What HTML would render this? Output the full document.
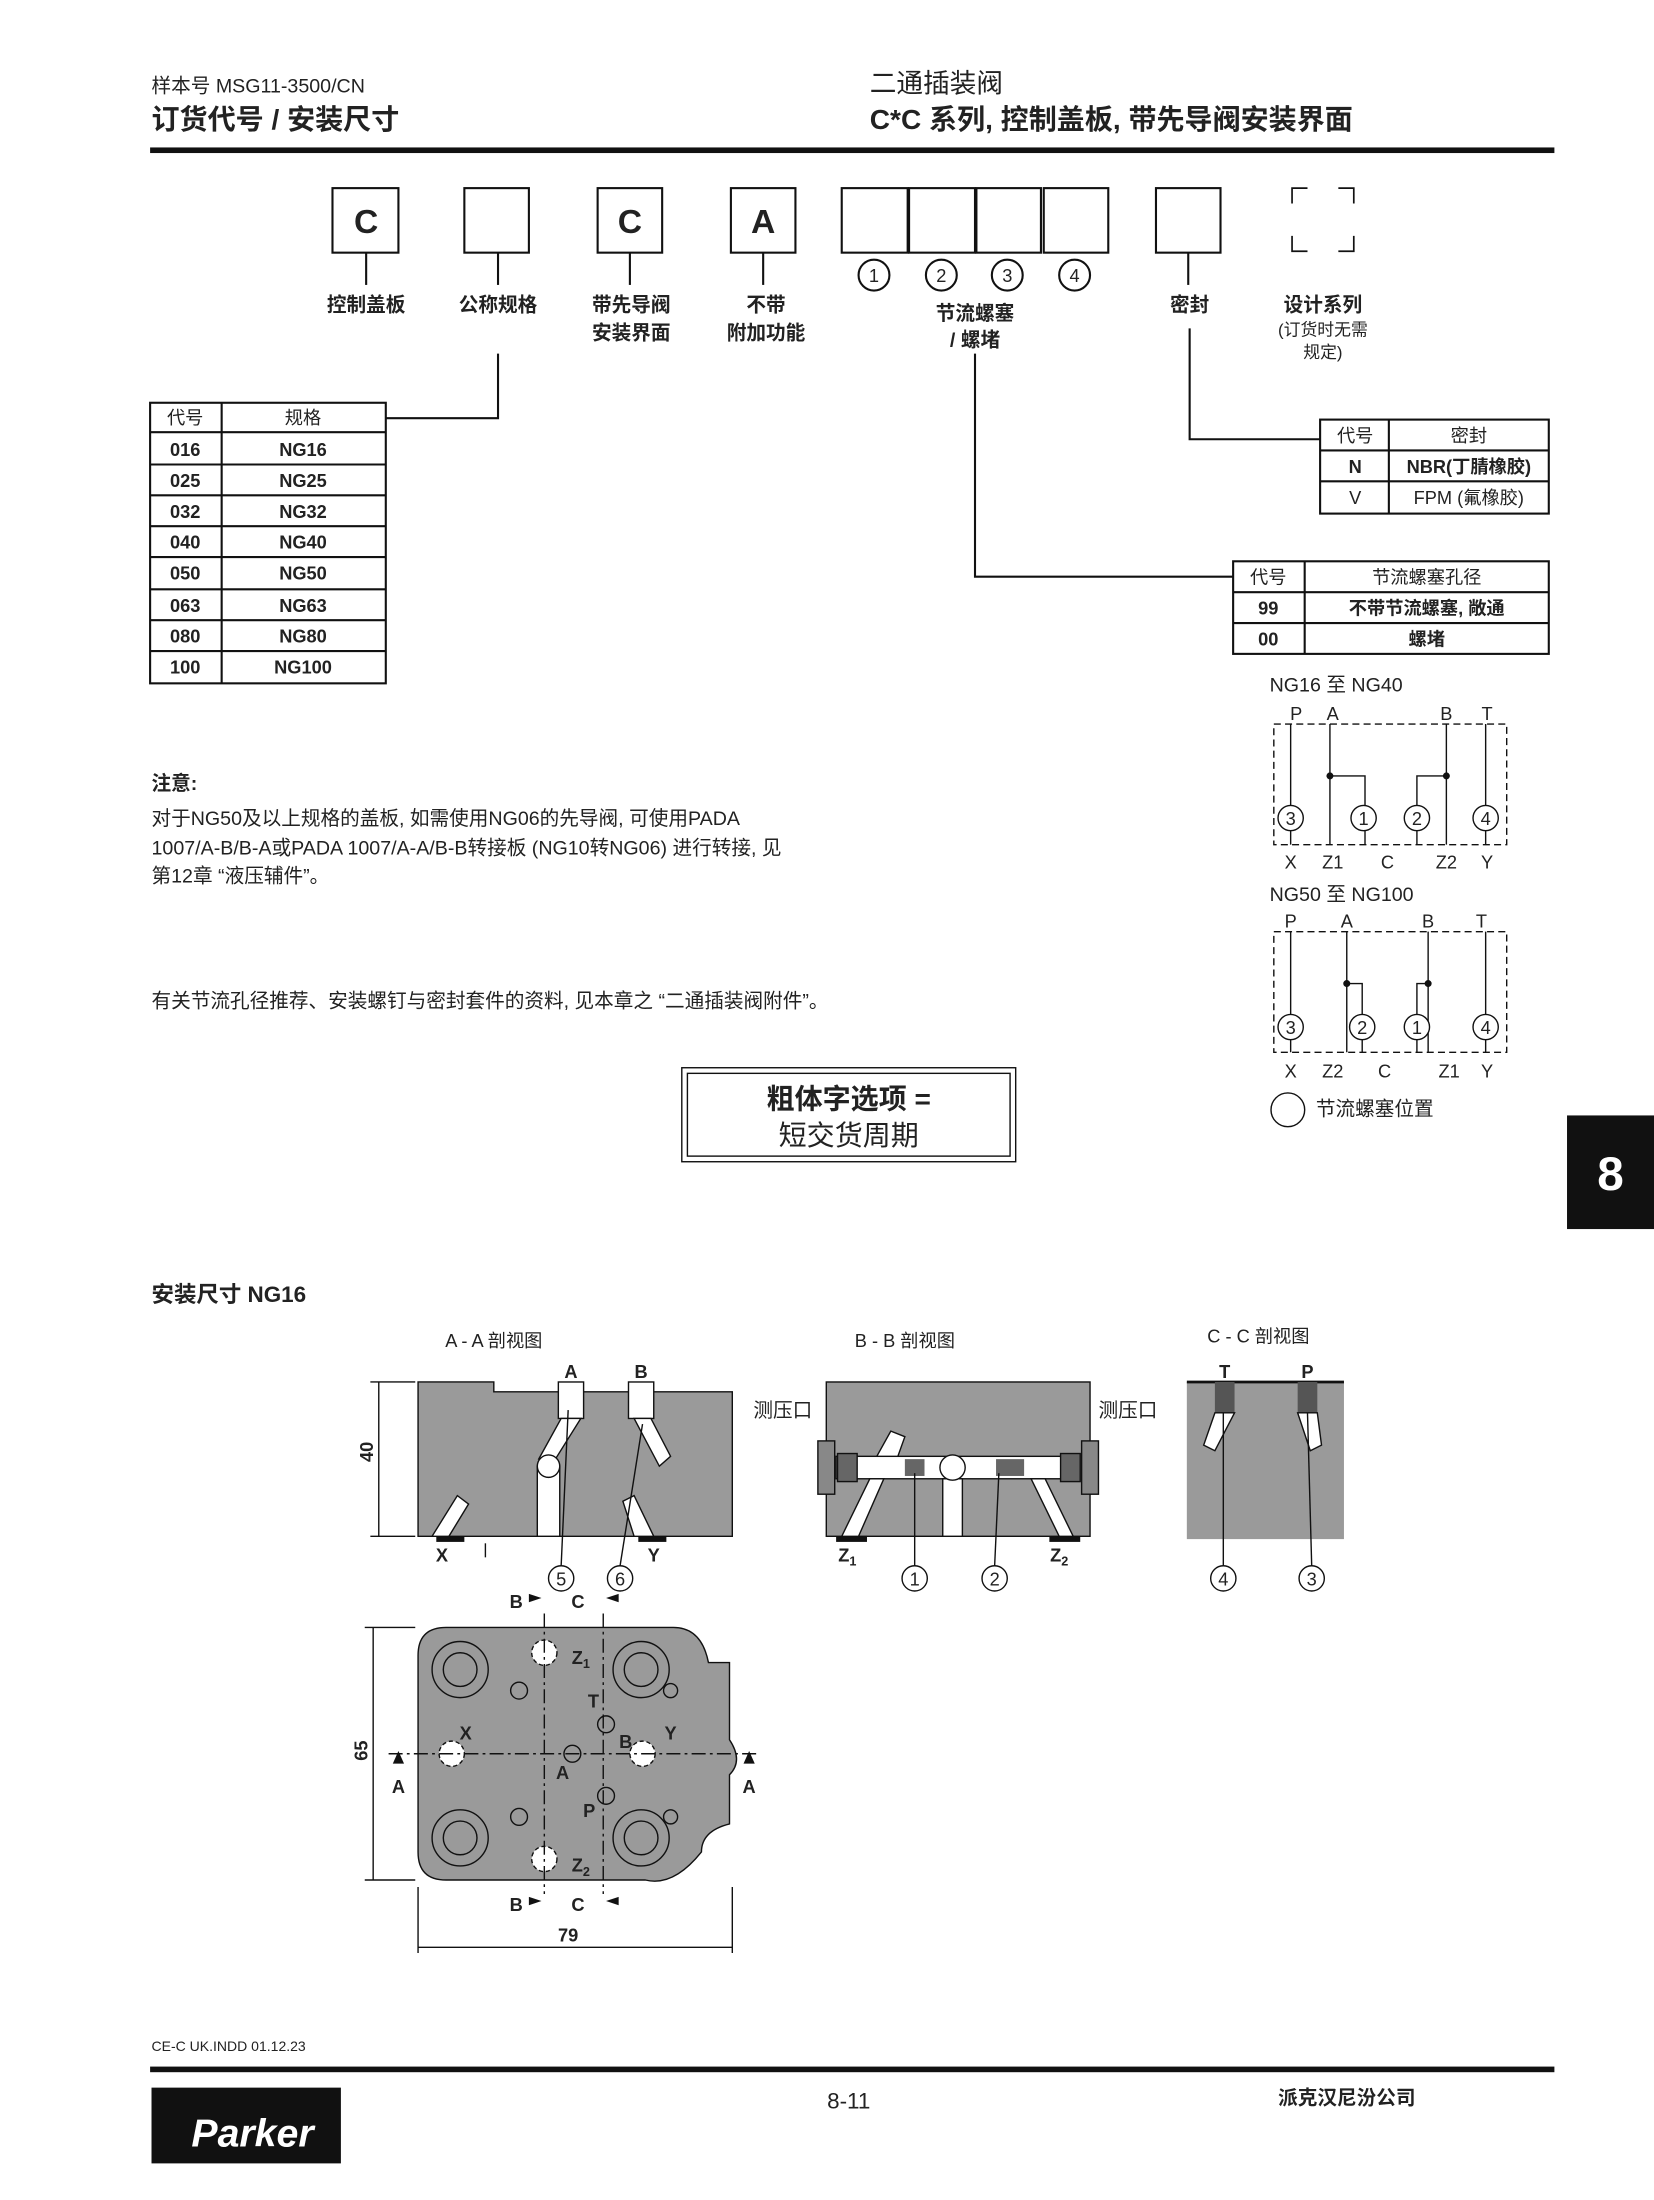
<!DOCTYPE html>
<html><head><meta charset="utf-8"><style>
html,body{margin:0;padding:0;background:#fff;}
svg{display:block;}
text{font-family:"Liberation Sans","Noto Sans CJK SC",sans-serif;fill:#222;}
.b{font-weight:bold;}
</style></head><body>
<svg width="1654" height="2200" viewBox="0 0 1179 1568" xmlns="http://www.w3.org/2000/svg">
<rect width="1179" height="1568" fill="#fff"/>
<text x="108" y="66" font-size="14">样本号 MSG11-3500/CN</text>
<text x="108" y="92" font-size="20" class="b">订货代号 / 安装尺寸</text>
<text x="620" y="66" font-size="19">二通插装阀</text>
<text x="620" y="92" font-size="20" class="b">C*C 系列, 控制盖板, 带先导阀安装界面</text>
<rect x="107" y="105" width="1001" height="4" fill="#111"/>

<g fill="none" stroke="#111" stroke-width="1.5">
<rect x="237" y="134" width="47" height="46"/>
<rect x="331" y="134" width="46" height="46"/>
<rect x="426" y="134" width="46" height="46"/>
<rect x="521" y="134" width="46" height="46"/>
<rect x="600" y="134" width="47" height="46"/>
<rect x="648" y="134" width="47" height="46"/>
<rect x="696" y="134" width="46" height="46"/>
<rect x="744" y="134" width="46" height="46"/>
<rect x="824" y="134" width="46" height="46"/>
<path d="M921 145V134H932 M954 134H965V145 M921 168V179H932 M954 179H965V168" stroke-width="1.2"/>
<line x1="261" y1="180" x2="261" y2="203"/>
<line x1="355" y1="180" x2="355" y2="203"/>
<line x1="449" y1="180" x2="449" y2="203"/>
<line x1="544" y1="180" x2="544" y2="203"/>
<line x1="847" y1="180" x2="847" y2="203"/>
<circle cx="623" cy="196" r="11"/><circle cx="671" cy="196" r="11"/>
<circle cx="718" cy="196" r="11"/><circle cx="766" cy="196" r="11"/>
<polyline points="355,252 355,298 275,298"/>
<polyline points="848,234 848,313 941,313"/>
<polyline points="695,252 695,411 879,411"/>
</g>
<g font-size="24" class="b" text-anchor="middle">
<text x="261" y="166">C</text><text x="449" y="166">C</text><text x="544" y="166">A</text>
</g>
<g font-size="13" text-anchor="middle">
<text x="623" y="201">1</text><text x="671" y="201">2</text><text x="718" y="201">3</text><text x="766" y="201">4</text>
</g>
<g font-size="14" class="b" text-anchor="middle">
<text x="261" y="222">控制盖板</text>
<text x="355" y="222">公称规格</text>
<text x="450" y="222">带先导阀</text><text x="450" y="242">安装界面</text>
<text x="546" y="222">不带</text><text x="546" y="242">附加功能</text>
<text x="695" y="228">节流螺塞</text><text x="695" y="247">/ 螺堵</text>
<text x="848" y="222">密封</text>
<text x="943" y="222">设计系列</text>
</g>
<g font-size="12" text-anchor="middle"><text x="943" y="239">(订货时无需</text><text x="943" y="255">规定)</text></g>

<g fill="none" stroke="#111" stroke-width="1.5">
<rect x="107" y="287" width="168" height="200"/>
<line x1="158" y1="287" x2="158" y2="487"/>
<path d="M107 308H275M107 331H275M107 353H275M107 375H275M107 397H275M107 420H275M107 442H275M107 464H275"/>
</g>
<g font-size="13" text-anchor="middle">
<text x="132" y="302">代号</text><text x="216" y="302">规格</text>
</g>
<g font-size="13" class="b" text-anchor="middle">
<text x="132" y="325">016</text><text x="216" y="325">NG16</text>
<text x="132" y="347">025</text><text x="216" y="347">NG25</text>
<text x="132" y="369">032</text><text x="216" y="369">NG32</text>
<text x="132" y="391">040</text><text x="216" y="391">NG40</text>
<text x="132" y="413">050</text><text x="216" y="413">NG50</text>
<text x="132" y="436">063</text><text x="216" y="436">NG63</text>
<text x="132" y="458">080</text><text x="216" y="458">NG80</text>
<text x="132" y="480">100</text><text x="216" y="480">NG100</text>
</g>

<g fill="none" stroke="#111" stroke-width="1.5">
<rect x="941" y="299" width="163" height="67"/>
<line x1="990" y1="299" x2="990" y2="366"/>
<path d="M941 321H1104M941 343H1104"/>
</g>
<g font-size="13" text-anchor="middle">
<text x="966" y="315">代号</text><text x="1047" y="315">密封</text>
<text x="966" y="337" class="b">N</text><text x="1047" y="337" class="b">NBR(丁腈橡胶)</text>
<text x="966" y="359">V</text><text x="1047" y="359">FPM (氟橡胶)</text>
</g>

<g fill="none" stroke="#111" stroke-width="1.5">
<rect x="879" y="400" width="225" height="66"/>
<line x1="930" y1="400" x2="930" y2="466"/>
<path d="M879 422H1104M879 444H1104"/>
</g>
<g font-size="13" text-anchor="middle">
<text x="904" y="416">代号</text><text x="1017" y="416">节流螺塞孔径</text>
<text x="904" y="438" class="b">99</text><text x="1017" y="438" class="b">不带节流螺塞, 敞通</text>
<text x="904" y="460" class="b">00</text><text x="1017" y="460" class="b">螺堵</text>
</g>

<text x="108" y="563" font-size="14" class="b">注意:</text>
<g font-size="14">
<text x="108" y="588">对于NG50及以上规格的盖板, 如需使用NG06的先导阀, 可使用PADA</text>
<text x="108" y="609">1007/A-B/B-A或PADA 1007/A-A/B-B转接板 (NG10转NG06) 进行转接, 见</text>
<text x="108" y="629">第12章 “液压辅件”。</text>
<text x="108" y="718">有关节流孔径推荐、安装螺钉与密封套件的资料, 见本章之 “二通插装阀附件”。</text>
</g>
<rect x="486" y="761" width="238" height="67" fill="none" stroke="#111" stroke-width="1"/>
<rect x="490" y="765" width="230" height="59" fill="none" stroke="#111" stroke-width="1"/>
<text x="605" y="790" font-size="20" class="b" text-anchor="middle">粗体字选项 =</text>
<text x="605" y="816" font-size="20" text-anchor="middle">短交货周期</text>

<rect x="1117" y="795" width="62" height="81" fill="#111"/>
<text x="1148" y="848" font-size="34" class="b" text-anchor="middle" style="fill:#fff">8</text>

<g font-size="14">
<text x="905" y="493">NG16 至 NG40</text>
<text x="905" y="642">NG50 至 NG100</text>
</g>
<g fill="none" stroke="#111" stroke-width="1">
<rect x="908" y="516" width="166" height="86" stroke-dasharray="5,3"/>
<path d="M920 516V602M948 516V602M1031 516V602M1059 516V602"/>
<path d="M948 553H973V602M1031 553H1010V602"/>
<circle cx="920" cy="583" r="9" fill="#fff"/><circle cx="972" cy="583" r="9" fill="#fff"/>
<circle cx="1010" cy="583" r="9" fill="#fff"/><circle cx="1059" cy="583" r="9" fill="#fff"/>
<rect x="908" y="664" width="166" height="86" stroke-dasharray="5,3"/>
<path d="M920 664V750M960 664V750M1018 664V750M1059 664V750"/>
<path d="M960 701H971V750M1018 701H1010V750"/>
<circle cx="920" cy="732" r="9" fill="#fff"/><circle cx="971" cy="732" r="9" fill="#fff"/>
<circle cx="1010" cy="732" r="9" fill="#fff"/><circle cx="1059" cy="732" r="9" fill="#fff"/>
<circle cx="918" cy="791" r="12"/>
</g>
<g fill="#111"><circle cx="948" cy="553" r="2.5"/><circle cx="1031" cy="553" r="2.5"/><circle cx="960" cy="701" r="2.5"/><circle cx="1018" cy="701" r="2.5"/></g>
<g font-size="13" text-anchor="middle">
<text x="924" y="513">P</text><text x="950" y="513">A</text><text x="1031" y="513">B</text><text x="1060" y="513">T</text>
<text x="920" y="588">3</text><text x="972" y="588">1</text><text x="1010" y="588">2</text><text x="1059" y="588">4</text>
<text x="920" y="619">X</text><text x="950" y="619">Z1</text><text x="989" y="619">C</text><text x="1031" y="619">Z2</text><text x="1060" y="619">Y</text>
<text x="920" y="661">P</text><text x="960" y="661">A</text><text x="1018" y="661">B</text><text x="1056" y="661">T</text>
<text x="920" y="737">3</text><text x="971" y="737">2</text><text x="1010" y="737">1</text><text x="1059" y="737">4</text>
<text x="920" y="768">X</text><text x="950" y="768">Z2</text><text x="987" y="768">C</text><text x="1033" y="768">Z1</text><text x="1060" y="768">Y</text>
</g>
<text x="938" y="795" font-size="14">节流螺塞位置</text>

<text x="108" y="928" font-size="16" class="b">安装尺寸 NG16</text>
<g font-size="13" text-anchor="middle">
<text x="352" y="960">A - A 剖视图</text><text x="645" y="960">B - B 剖视图</text><text x="897" y="957">C - C 剖视图</text>
</g>
<!-- A-A -->
<path d="M298 985H352V992H522V1095H298Z" fill="#9a9a9a" stroke="#111"/>
<g fill="#fff" stroke="#111">
<rect x="398" y="985" width="18" height="26"/>
<rect x="448" y="985" width="18" height="26"/>
<path d="M400 1011L384 1040L394 1043L414 1011Z"/>
<path d="M452 1011L470 1045L478 1038L464 1011Z"/>
<rect x="383" y="1045" width="16" height="50"/>
<circle cx="391" cy="1045" r="8"/>
<path d="M308 1095L326 1066L334 1072L320 1095Z"/>
<path d="M452 1095L444 1070L452 1066L466 1095Z"/>
</g>
<rect x="311" y="1095" width="20" height="4" fill="#111"/><rect x="455" y="1095" width="20" height="4" fill="#111"/>
<g stroke="#111" fill="none"><line x1="346" y1="1100" x2="346" y2="1110"/>
<line x1="400" y1="1116" x2="405" y2="1005"/><line x1="442" y1="1116" x2="458" y2="1015"/>
<line x1="270" y1="985" x2="270" y2="1095"/><path d="M264 985H296M264 1095H296"/></g>
<text x="266" y="1042" font-size="13" class="b" transform="rotate(-90 266 1042)">40</text>
<g font-size="13" class="b" text-anchor="middle">
<text x="407" y="982">A</text><text x="457" y="982">B</text><text x="315" y="1113">X</text><text x="466" y="1113">Y</text>
</g>
<g fill="#fff" stroke="#111"><circle cx="400" cy="1125" r="9"/><circle cx="442" cy="1125" r="9"/>
<circle cx="652" cy="1125" r="9"/><circle cx="709" cy="1125" r="9"/><circle cx="872" cy="1125" r="9"/><circle cx="935" cy="1125" r="9"/></g>
<g font-size="13" text-anchor="middle">
<text x="400" y="1130">5</text><text x="442" y="1130">6</text><text x="652" y="1130">1</text><text x="709" y="1130">2</text><text x="872" y="1130">4</text><text x="935" y="1130">3</text>
</g>
<!-- B-B -->
<rect x="589" y="985" width="188" height="110" fill="#9a9a9a" stroke="#111"/>
<g fill="#fff" stroke="#111">
<rect x="596" y="1038" width="172" height="16"/>
<rect x="672" y="1054" width="14" height="41"/>
<path d="M600 1095L620 1054L630 1054L612 1095Z"/>
<path d="M755 1095L735 1054L745 1054L765 1095Z"/>
<path d="M625 1038L635 1020L645 1024L640 1038Z"/>
<circle cx="679" cy="1046" r="9"/>
</g>
<rect x="583" y="1027" width="12" height="38" fill="#888" stroke="#111"/>
<rect x="771" y="1027" width="12" height="38" fill="#888" stroke="#111"/>
<rect x="597" y="1036" width="14" height="20" fill="#666" stroke="#111"/>
<rect x="756" y="1036" width="14" height="20" fill="#666" stroke="#111"/>
<rect x="645" y="1040" width="14" height="12" fill="#666"/><rect x="710" y="1040" width="20" height="12" fill="#666"/>
<rect x="596" y="1095" width="22" height="4" fill="#111"/><rect x="748" y="1095" width="22" height="4" fill="#111"/>
<g stroke="#111"><line x1="652" y1="1116" x2="652" y2="1050"/><line x1="709" y1="1116" x2="712" y2="1050"/></g>
<text x="558" y="1010" font-size="14" text-anchor="middle">测压口</text>
<text x="804" y="1010" font-size="14" text-anchor="middle">测压口</text>
<g font-size="13" class="b" text-anchor="middle"><text x="604" y="1113">Z<tspan font-size="9" dy="3">1</tspan></text><text x="755" y="1113">Z<tspan font-size="9" dy="3">2</tspan></text></g>
<!-- C-C -->
<rect x="846" y="985" width="112" height="112" fill="#9a9a9a"/>
<line x1="846" y1="985" x2="958" y2="985" stroke="#111" stroke-width="2"/>
<rect x="866" y="985" width="14" height="22" fill="#555"/><rect x="925" y="985" width="14" height="22" fill="#555"/>
<g fill="#fff" stroke="#111"><path d="M866 1007L858 1030L866 1034L880 1007Z"/><path d="M925 1007L934 1034L942 1030L939 1007Z"/></g>
<g stroke="#111"><line x1="872" y1="1116" x2="872" y2="1007"/><line x1="935" y1="1116" x2="932" y2="1007"/></g>
<g font-size="13" class="b" text-anchor="middle"><text x="873" y="982">T</text><text x="932" y="982">P</text></g>
<!-- plan view -->
<path d="M318 1160H480Q500 1160 505 1185H520V1240Q530 1255 520 1265V1300Q500 1305 500 1320Q480 1345 460 1340H318Q298 1340 298 1320V1180Q298 1160 318 1160Z" fill="#9a9a9a" stroke="#111"/>
<g fill="none" stroke="#111"><circle cx="328" cy="1190" r="20"/><circle cx="328" cy="1190" r="12"/>
<circle cx="457" cy="1190" r="20"/><circle cx="457" cy="1190" r="12"/>
<circle cx="328" cy="1310" r="20"/><circle cx="328" cy="1310" r="12"/>
<circle cx="457" cy="1310" r="20"/><circle cx="457" cy="1310" r="12"/>
<circle cx="388" cy="1178" r="9" stroke-dasharray="3,2" fill="#fff"/><circle cx="388" cy="1325" r="9" stroke-dasharray="3,2" fill="#fff"/>
<circle cx="322" cy="1250" r="9" stroke-dasharray="3,2" fill="#fff"/><circle cx="458" cy="1250" r="9" stroke-dasharray="3,2" fill="#fff"/>
<circle cx="370" cy="1205" r="6"/><circle cx="432" cy="1229" r="6"/><circle cx="408" cy="1250" r="6"/><circle cx="432" cy="1280" r="6"/><circle cx="370" cy="1295" r="6"/><circle cx="478" cy="1205" r="5"/><circle cx="478" cy="1295" r="5"/>
<line x1="266" y1="1160" x2="266" y2="1340"/><path d="M260 1160H296M260 1340H296"/>
<line x1="298" y1="1388" x2="522" y2="1388"/><path d="M298 1345V1392M522 1345V1392"/>
<path d="M388 1150V1350M430 1150V1350" stroke-dasharray="10,3,2,3"/>
<path d="M277 1250H540" stroke-dasharray="10,3,2,3"/></g>
<g fill="#111"><path d="M377 1142L386 1139L377 1136Z"/><path d="M441 1142L432 1139L441 1136Z"/>
<path d="M377 1358L386 1355L377 1352Z"/><path d="M441 1358L432 1355L441 1352Z"/>
<path d="M284 1248L280 1257H288Z"/><path d="M534 1248L530 1257H538Z"/></g>
<text x="262" y="1255" font-size="13" class="b" transform="rotate(-90 262 1255)">65</text>
<g font-size="13" class="b" text-anchor="middle">
<text x="405" y="1384">79</text><text x="284" y="1278">A</text><text x="534" y="1278">A</text>
<text x="368" y="1146">B</text><text x="412" y="1146">C</text><text x="368" y="1362">B</text><text x="412" y="1362">C</text>
<text x="414" y="1186">Z<tspan font-size="9" dy="3">1</tspan></text><text x="414" y="1334">Z<tspan font-size="9" dy="3">2</tspan></text><text x="332" y="1240">X</text><text x="478" y="1240">Y</text>
<text x="423" y="1217">T</text><text x="446" y="1246">B</text><text x="401" y="1268">A</text><text x="420" y="1295">P</text>
</g>

<text x="108" y="1462" font-size="10">CE-C UK.INDD 01.12.23</text>
<rect x="107" y="1473" width="1001" height="4" fill="#111"/>
<text x="605" y="1503" font-size="16" text-anchor="middle">8-11</text>
<text x="960" y="1500" font-size="14" class="b" text-anchor="middle">派克汉尼汾公司</text>
<rect x="108" y="1488" width="135" height="54" fill="#111"/>
<text x="180" y="1530" font-size="28" class="b" font-style="italic" text-anchor="middle" style="fill:#fff">Parker</text>
</svg>
</body></html>
